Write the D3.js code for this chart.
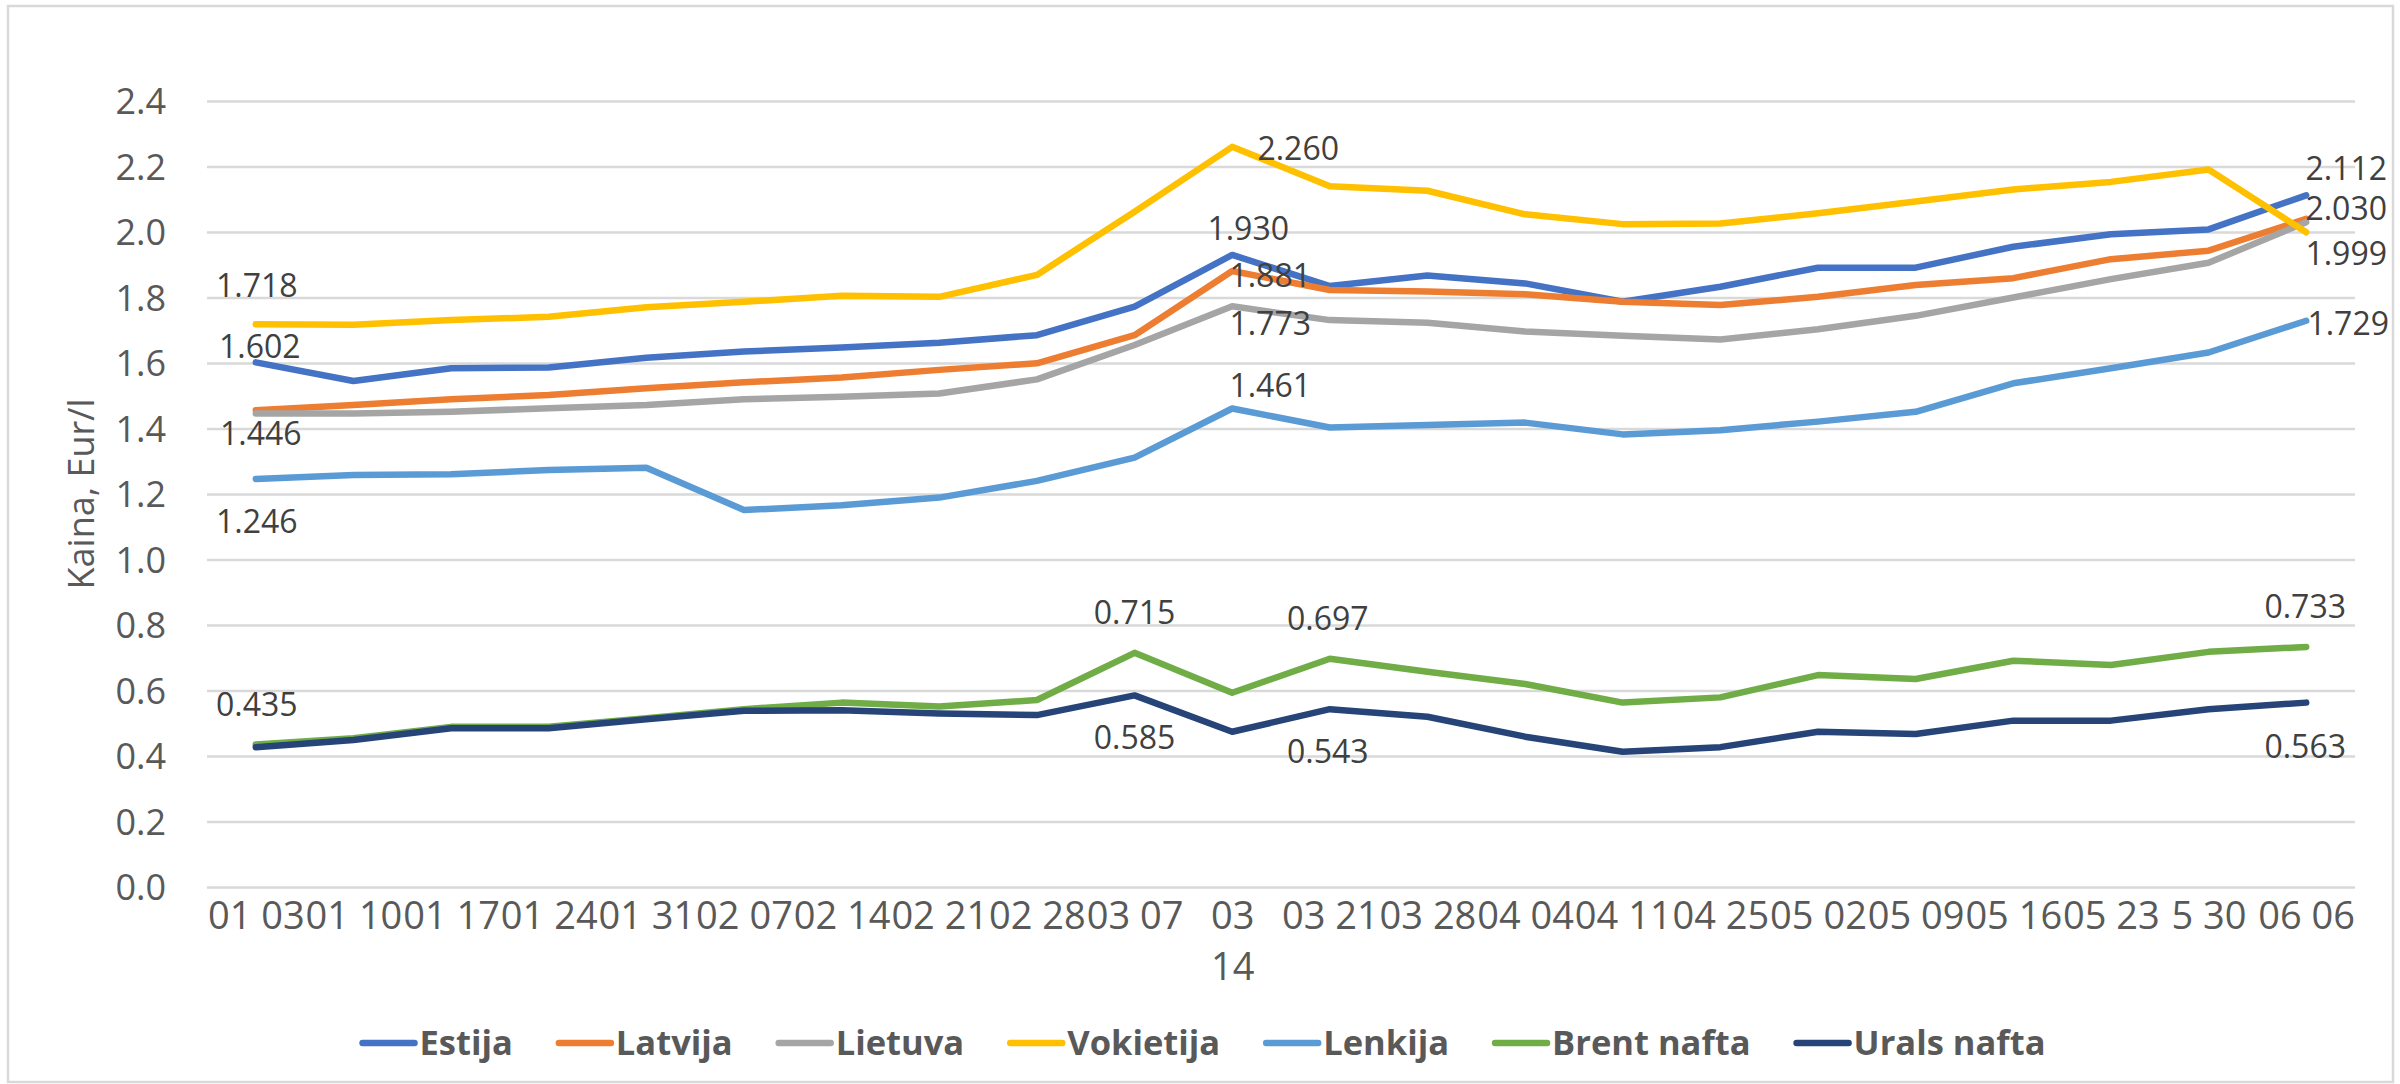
<!DOCTYPE html>
<html lang="lt">
<head>
<meta charset="utf-8">
<title>Kaina, Eur/l</title>
<script src="https://cdn.jsdelivr.net/npm/d3@7"></script>
<style>
  body { margin: 0; background: #fff; }
  svg { display: block; font-family: "Open Sans", sans-serif; }
</style>
</head>
<body>
<script>
// category labels as they show under the axis ("\n" = wrapped label)
var categories = ["01 03", "01 10", "01 17", "01 24", "01 31", "02 07", "02 14", "02 21", "02 28", "03 07",
                  "03\n14", "03 21", "03 28", "04 04", "04 11", "04 25", "05 02", "05 09", "05 16", "05 23", "5 30", "06 06"];

// prices, Eur/l (labelled points are exact)
var estija    = [1.602, 1.545, 1.584, 1.586, 1.616, 1.635, 1.647, 1.662, 1.685, 1.772, 1.930,
                 1.835, 1.867, 1.843, 1.787, 1.833, 1.891, 1.891, 1.955, 1.993, 2.008, 2.112];
var latvija   = [1.456, 1.472, 1.489, 1.502, 1.523, 1.541, 1.556, 1.579, 1.599, 1.685, 1.881,
                 1.823, 1.818, 1.810, 1.787, 1.777, 1.802, 1.838, 1.859, 1.917, 1.943, 2.040];
var lietuva   = [1.446, 1.446, 1.451, 1.462, 1.472, 1.489, 1.497, 1.507, 1.550, 1.655, 1.773,
                 1.731, 1.723, 1.696, 1.683, 1.672, 1.703, 1.744, 1.800, 1.856, 1.906, 2.030];
var vokietija = [1.718, 1.717, 1.731, 1.741, 1.770, 1.787, 1.805, 1.802, 1.869, 2.062, 2.260,
                 2.140, 2.126, 2.054, 2.024, 2.026, 2.057, 2.093, 2.130, 2.153, 2.191, 1.999];
var lenkija   = [1.246, 1.258, 1.260, 1.273, 1.280, 1.151, 1.166, 1.189, 1.240, 1.311, 1.461,
                 1.403, 1.411, 1.418, 1.382, 1.395, 1.421, 1.451, 1.538, 1.584, 1.632, 1.729];
var brent     = [0.435, 0.454, 0.489, 0.489, 0.515, 0.543, 0.563, 0.551, 0.571, 0.715, 0.593,
                 0.697, 0.657, 0.620, 0.563, 0.579, 0.647, 0.635, 0.691, 0.678, 0.718, 0.733];
var urals     = [0.427, 0.449, 0.485, 0.485, 0.512, 0.538, 0.540, 0.530, 0.525, 0.585, 0.474,
                 0.543, 0.520, 0.459, 0.413, 0.427, 0.474, 0.467, 0.508, 0.508, 0.543, 0.563];

var yTicks = [0, 0.2, 0.4, 0.6, 0.8, 1.0, 1.2, 1.4, 1.6, 1.8, 2.0, 2.2, 2.4];

var series = [
  {name: "Estija",      values: estija,    color: "#4472C4"},
  {name: "Latvija",     values: latvija,   color: "#ED7D31"},
  {name: "Lietuva",     values: lietuva,   color: "#A5A5A5"},
  {name: "Vokietija",   values: vokietija, color: "#FFC000"},
  {name: "Lenkija",     values: lenkija,   color: "#5B9BD5"},
  {name: "Brent nafta", values: brent,     color: "#70AD47"},
  {name: "Urals nafta", values: urals,     color: "#264478"}
];

// which points carry a value label, and where the label sits (dx, dy from the point)
var labelSpots = [
  ["Vokietija", 0, 1, -27], ["Estija", 0, 4, -4], ["Lietuva", 0, 5, 32], ["Lenkija", 0, 1, 54],
  ["Estija", 10, 16, -15], ["Vokietija", 10, 66, 13], ["Latvija", 10, 38, 16],
  ["Lietuva", 10, 38, 29], ["Lenkija", 10, 38, -12],
  ["Estija", 21, 40, -15], ["Lietuva", 21, 40, -2], ["Vokietija", 21, 40, 33], ["Lenkija", 21, 42, 14],
  ["Brent nafta", 0, 1, -29], ["Brent nafta", 9, 0, -29], ["Urals nafta", 9, 0, 54],
  ["Brent nafta", 11, -2, -29], ["Urals nafta", 11, -2, 54],
  ["Brent nafta", 21, -1, -29], ["Urals nafta", 21, -1, 55]
];

var W = 2400, H = 1084;
var plotL = 207, plotR = 2355, plotT = 101, plotB = 887;

var svg = d3.select("body").append("svg")
  .attr("width", W)
  .attr("height", H);

// chart frame
svg.append("rect")
  .attr("x", 8).attr("y", 6)
  .attr("width", 2385).attr("height", 1076)
  .attr("fill", "#fff")
  .attr("stroke", "#d9d9d9")
  .attr("stroke-width", 2.5);

var x = d3.scalePoint().domain(d3.range(categories.length)).range([plotL, plotR]).padding(0.5);
var y = d3.scaleLinear().domain([0, 2.4]).range([plotB, plotT]);

// y axis + gridlines
var yAxis = svg.append("g")
  .attr("transform", "translate(" + plotL + ",0)")
  .call(d3.axisLeft(y).tickValues(yTicks).tickSize(-(plotR - plotL)).tickPadding(41).tickFormat(d3.format(".1f")));
yAxis.select(".domain").remove();
yAxis.selectAll(".tick line").attr("stroke", "#d9d9d9").attr("stroke-width", 2.5);
yAxis.selectAll(".tick text")
  .attr("fill", "#595959")
  .attr("font-size", 36)
  .attr("font-family", "Open Sans, sans-serif")
  .attr("dy", "0.36em");

// x axis labels
var xAxis = svg.append("g")
  .attr("transform", "translate(0," + plotB + ")")
  .call(d3.axisBottom(x).tickSize(0).tickPadding(42).tickFormat(function(i) { return categories[i]; }));
xAxis.select(".domain").remove();
xAxis.selectAll(".tick text")
  .attr("fill", "#595959")
  .attr("font-size", 38)
  .attr("font-family", "Open Sans, sans-serif")
  .each(function(i) {
    var t = d3.select(this);
    var lines = categories[i].split("\n");
    t.text(null);
    lines.forEach(function(s, k) {
      t.append("tspan").attr("x", 0).attr("dy", k === 0 ? 0 : "1.35em").text(s);
    });
  });

// axis title
svg.append("text")
  .attr("transform", "translate(94," + ((plotT + plotB) / 2) + ") rotate(-90)")
  .attr("text-anchor", "middle")
  .attr("fill", "#595959")
  .attr("font-size", 36)
  .text("Kaina, Eur/l");

// lines
var line = d3.line()
  .x(function(d, i) { return x(i); })
  .y(function(d) { return y(d); });

svg.append("g").selectAll("path")
  .data(series)
  .enter()
  .append("path")
  .attr("d", function(d) { return line(d.values); })
  .attr("fill", "none")
  .attr("stroke", function(d) { return d.color; })
  .attr("stroke-width", 6.5)
  .attr("stroke-linejoin", "round")
  .attr("stroke-linecap", "round");

// value labels
var byName = {};
series.forEach(function(s) { byName[s.name] = s; });
var fmt = d3.format(".3f");

svg.append("g").selectAll("text")
  .data(labelSpots)
  .enter()
  .append("text")
  .attr("x", function(d) { return x(d[1]) + d[2]; })
  .attr("y", function(d) { return y(byName[d[0]].values[d[1]]) + d[3]; })
  .attr("text-anchor", "middle")
  .attr("fill", "#404040")
  .attr("font-size", 32)
  .text(function(d) { return fmt(byName[d[0]].values[d[1]]); });

// legend
var legend = svg.append("g");
var lx = 0;
series.forEach(function(s) {
  var g = legend.append("g").attr("transform", "translate(" + lx + ",0)");
  g.append("line")
    .attr("x1", 2).attr("x2", 54)
    .attr("y1", 1043).attr("y2", 1043)
    .attr("stroke", s.color)
    .attr("stroke-width", 6.5)
    .attr("stroke-linecap", "round");
  var t = g.append("text")
    .attr("x", 59).attr("y", 1055)
    .attr("fill", "#595959")
    .attr("font-size", 34.5)
    .attr("font-weight", "bold")
    .text(s.name);
  lx += 59 + t.node().getComputedTextLength() + 44;
});
lx -= 44;
legend.attr("transform", "translate(" + (1203 - lx / 2) + ",0)");
</script>
</body>
</html>
